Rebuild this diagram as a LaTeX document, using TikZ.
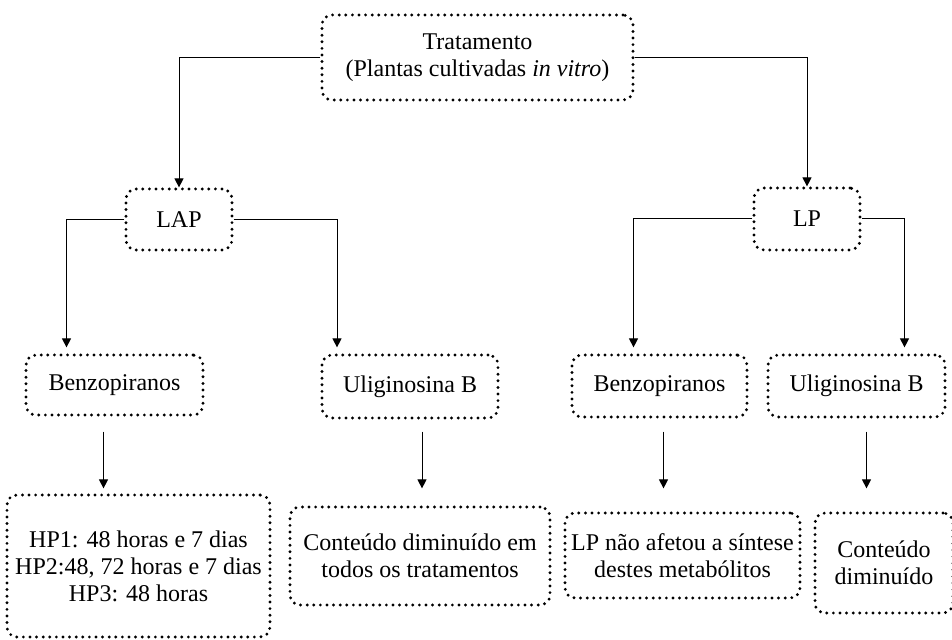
\documentclass[tikz,border=0pt]{standalone}
\usepackage{fontspec}
\setmainfont{Liberation Serif}
\usetikzlibrary{arrows.meta,positioning,calc}

\tikzset{
    caixa/.style={draw, line width=1.6pt, dash pattern=on 0pt off 3.3pt, line cap=round,
        rounded corners=5pt, align=center, inner sep=0pt,
        font=\fontsize{12}{13.5}\selectfont},
    seta/.style={line width=0.5pt, -{Triangle[length=4.5pt,width=4.5pt]}},
}

\begin{document}
\begin{tikzpicture}[x=0.5pt,y=-0.5pt]
    \useasboundingbox (0,0) rectangle (952,640);

    % topo
    \node[caixa, minimum width=155.5pt, minimum height=42.5pt] (trat) at (477.5,57.5)
        {Tratamento\\(Plantas cultivadas \textit{in vitro})};

    % segundo nivel
    \node[caixa, minimum width=53pt, minimum height=30.5pt] (lap) at (179,219.5) {LAP};
    \node[caixa, minimum width=53pt, minimum height=31pt] (lp) at (807,219) {LP};

    % metabolitos
    \node[caixa, minimum width=88.5pt, minimum height=30pt] (benzoA) at (114.5,385) {Benzopiranos};
    \node[caixa, minimum width=88pt, minimum height=31.5pt] (uligA) at (410,386.5) {Uliginosina B};
    \node[caixa, minimum width=87.5pt, minimum height=31pt] (benzoB) at (659.5,386) {Benzopiranos};
    \node[caixa, minimum width=88.5pt, minimum height=31pt] (uligB) at (856.5,386) {Uliginosina B};

    % resultados
    \node[caixa, minimum width=131.5pt, minimum height=71pt] (hp) at (138.5,566)
        {HP1: 48 horas e 7 dias\\HP2:48, 72 horas e 7 dias\\HP3: 48 horas};
    \node[caixa, minimum width=130pt, minimum height=49pt] (contA) at (420,556)
        {Conteúdo diminuído em\\todos os tratamentos};
    \node[caixa, minimum width=117.5pt, minimum height=42.5pt] (lpnao) at (682.5,555.5)
        {LP não afetou a síntese\\destes metabólitos};
    \node[caixa, minimum width=69pt, minimum height=50pt] (contB) at (884,563)
        {Conteúdo\\diminuído};

    % ligacoes
    \draw[seta] (trat.west) -| (lap.north);
    \draw[seta] (trat.east) -| (lp.north);
    \draw[seta, shorten >=3pt] (lap.west) -| ([xshift=-24pt]benzoA.north);
    \draw[seta, shorten >=3pt] (lap.east) -| ([xshift=-36.5pt]uligA.north);
    \draw[seta, shorten >=3pt] (lp.west) -| ([xshift=-13pt]benzoB.north);
    \draw[seta, shorten >=3pt] (lp.east) -| ([xshift=24pt]uligB.north);

    \draw[seta, shorten <=7.5pt, shorten >=2.5pt] ([xshift=-5.5pt]benzoA.south) -- ([xshift=-5.5pt]benzoA.south |- hp.north);
    \draw[seta, shorten <=6pt, shorten >=8.5pt] ([xshift=6pt]uligA.south) -- ([xshift=6pt]uligA.south |- contA.north);
    \draw[seta, shorten <=6.5pt, shorten >=11.5pt] ([xshift=2pt]benzoB.south) -- ([xshift=2pt]benzoB.south |- lpnao.north);
    \draw[seta, shorten <=6.5pt, shorten >=11.5pt] ([xshift=5pt]uligB.south) -- ([xshift=5pt]uligB.south |- contB.north);
\end{tikzpicture}
\end{document}
